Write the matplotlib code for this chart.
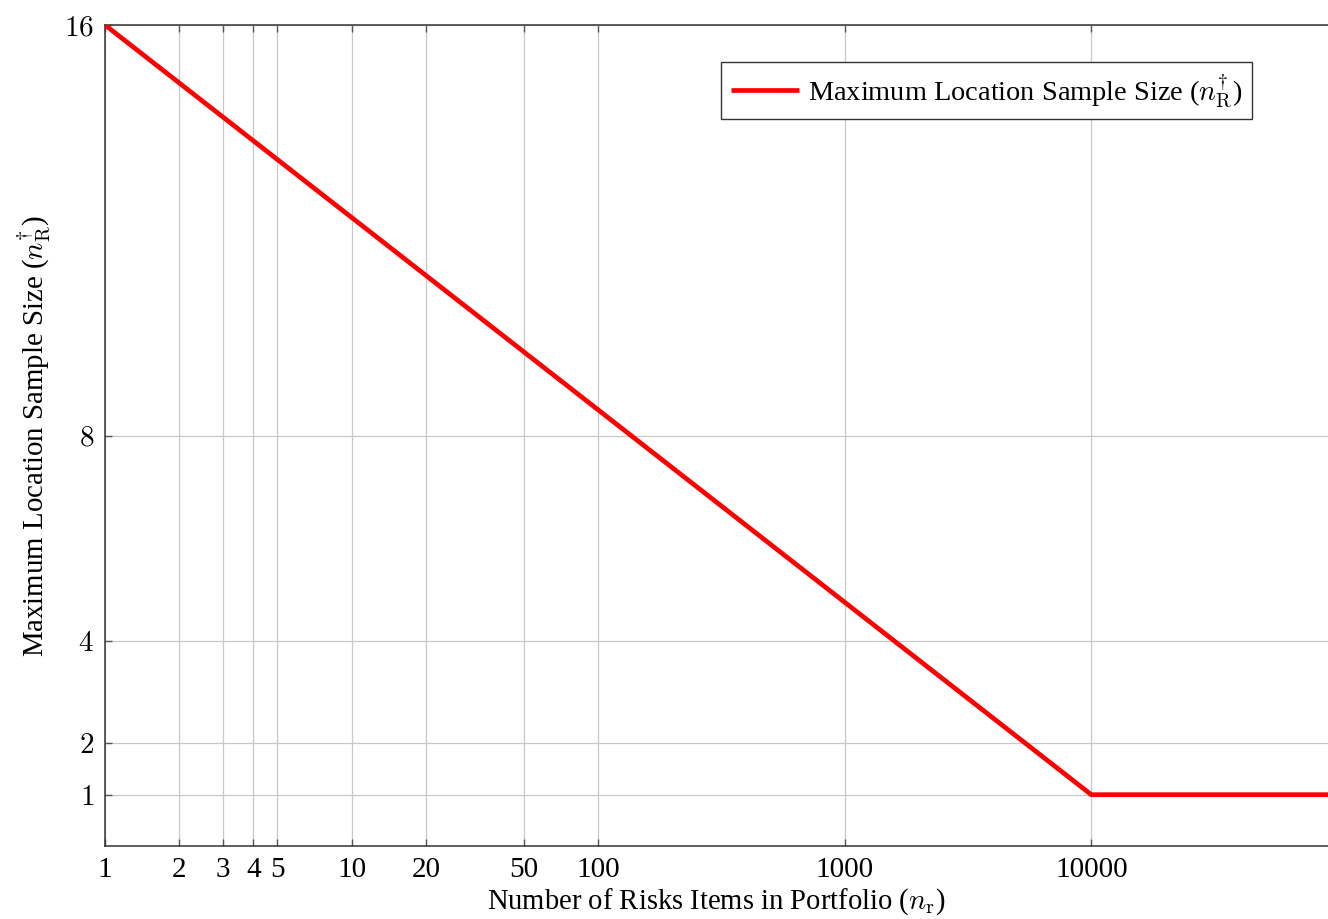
import numpy as np
import matplotlib.pyplot as plt
from matplotlib.ticker import FixedLocator, NullLocator

plt.rcParams['font.family'] = 'Liberation Serif'
plt.rcParams['mathtext.fontset'] = 'cm'

# number of risk items vs maximum location sample size
n_r = [1, 10, 100, 1000, 10000, 100000]
n_R = [16, 12.25, 8.5, 4.75, 1, 1]

xticks = [1, 2, 3, 4, 5, 10, 20, 50, 100, 1000, 10000]
yticks = [1, 2, 4, 8, 16]

fig = plt.figure(figsize=(13.28, 9.19), dpi=100)
ax = fig.add_axes([105/1328, 73/919, 1 - 105/1328, 821/919])

ax.plot(n_r, n_R, color='#ff0000', lw=3.4, solid_capstyle='butt',
        label=r'Maximum Location Sample Size ($n_{\mathrm{R}}^{\dagger}$)',
        zorder=3)

ax.set_xscale('log')
ax.set_xlim(1, 10**4.96)
ax.set_ylim(0, 16)
ax.xaxis.set_major_locator(FixedLocator(xticks))
ax.xaxis.set_minor_locator(NullLocator())
ax.set_xticklabels([str(t) for t in xticks])
ax.set_yticks(yticks)
ax.set_yticklabels([r'$%d$' % t for t in yticks])

ax.grid(True, color='#c8c8c8', lw=0.9)
ax.set_axisbelow(True)
ax.tick_params(direction='in', length=5, width=1, color='#555555',
               top=True, labelsize=21, pad=8)
for s in ['left', 'bottom', 'top']:
    ax.spines[s].set_color('#333333')
    ax.spines[s].set_linewidth(1.1)
ax.spines['right'].set_visible(False)

ax.set_xlabel(r'Number of Risks Items in Portfolio ($n_{\mathrm{r}}$)', fontsize=20.6, labelpad=2)
ax.set_ylabel(r'Maximum Location Sample Size ($n_{\mathrm{R}}^{\dagger}$)', fontsize=20.8, labelpad=8)

leg = ax.legend(loc='upper right', bbox_to_anchor=(0.938, 0.955), borderaxespad=0,
                fontsize=20.4, fancybox=False, framealpha=1, handlelength=2.4,
                handletextpad=0.3, borderpad=0.35)
leg.get_frame().set_edgecolor('#333333')
leg.get_frame().set_linewidth(1.0)

plt.savefig('out.png', dpi=100)
